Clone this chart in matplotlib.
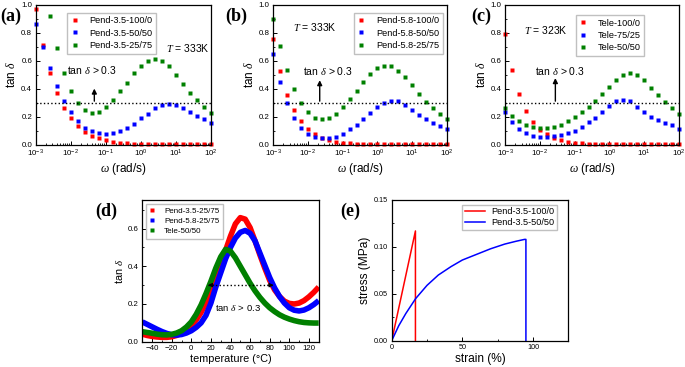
import numpy as np
import matplotlib

matplotlib.use("Agg")
from matplotlib import pyplot as plt
from matplotlib.ticker import AutoMinorLocator, FormatStrFormatter, MultipleLocator

plt.rcParams["font.family"] = ["Liberation Sans", "DejaVu Sans"]
plt.rcParams["mathtext.fontset"] = "custom"
plt.rcParams["mathtext.rm"] = "Liberation Sans"
plt.rcParams["mathtext.it"] = "Liberation Serif:italic"
plt.rcParams["xtick.direction"] = "in"
plt.rcParams["ytick.direction"] = "in"
plt.rcParams["axes.linewidth"] = 0.9

RED = "#ff0000"
BLUE = "#0000ff"
GREEN = "#008000"

# frequency sweep, rad/s
freq = [0.001, 0.00158, 0.00251, 0.00398, 0.00631, 0.01, 0.0158, 0.0251, 0.0398, 0.0631,
        0.1, 0.158, 0.251, 0.398, 0.631, 1, 1.58, 2.51, 3.98, 6.31,
        10, 15.8, 25.1, 39.8, 63.1, 100]

# (a) T = 333K
a_labels = ["Pend-3.5-100/0", "Pend-3.5-50/50", "Pend-3.5-25/75"]
a_red = [0.97, 0.71, 0.51, 0.37, 0.26, 0.186, 0.129, 0.088, 0.062, 0.043, 0.029, 0.018, 0.012,
         0.009, 0.007, 0.005, 0.004, 0.004, 0.003, 0.003, 0.003, 0.003, 0.003, 0.003, 0.003, 0.003]
a_blue = [0.86, 0.70, 0.55, 0.42, 0.31, 0.23, 0.17, 0.12, 0.095, 0.08, 0.075, 0.08, 0.095,
          0.12, 0.15, 0.19, 0.22, 0.26, 0.285, 0.29, 0.285, 0.26, 0.23, 0.205, 0.18, 0.155]
a_green = [np.nan, np.nan, 0.92, 0.69, 0.515, 0.385, 0.295, 0.245, 0.225, 0.235, 0.265, 0.315, 0.38,
           0.44, 0.51, 0.565, 0.60, 0.615, 0.60, 0.56, 0.50, 0.435, 0.37, 0.315, 0.27, 0.225]

# (b) T = 333K
b_labels = ["Pend-5.8-100/0", "Pend-5.8-50/50", "Pend-5.8-25/75"]
b_red = [0.752, 0.524, 0.357, 0.245, 0.167, 0.112, 0.074, 0.05, 0.031, 0.021, 0.012, 0.008, 0.006,
         0.005, 0.005, 0.004, 0.004, 0.004, 0.004, 0.004, 0.004, 0.004, 0.004, 0.004, 0.004, 0.004]
b_blue = [0.65, 0.448, 0.295, 0.186, 0.117, 0.076, 0.057, 0.048, 0.048, 0.055, 0.076, 0.11, 0.14,
          0.18, 0.226, 0.267, 0.30, 0.314, 0.31, 0.28, 0.248, 0.21, 0.179, 0.157, 0.133, 0.112]
b_green = [0.895, 0.705, 0.533, 0.395, 0.295, 0.229, 0.19, 0.181, 0.19, 0.221, 0.269, 0.324, 0.386,
           0.45, 0.505, 0.545, 0.564, 0.56, 0.529, 0.481, 0.424, 0.36, 0.305, 0.26, 0.221, 0.181]

# (c) T = 323K
c_labels = ["Tele-100/0", "Tele-75/25", "Tele-50/50"]
c_red = [0.79, 0.53, 0.358, 0.243, 0.159, 0.103, 0.072, 0.043, 0.031, 0.019, 0.01, 0.008, 0.007,
         0.006, 0.006, 0.006, 0.006, 0.006, 0.006, 0.006, 0.006, 0.006, 0.006, 0.006, 0.006, 0.006]
c_blue = [0.235, 0.159, 0.11, 0.079, 0.062, 0.055, 0.055, 0.058, 0.067, 0.079, 0.099, 0.125, 0.159,
          0.192, 0.235, 0.276, 0.308, 0.32, 0.308, 0.269, 0.233, 0.2, 0.175, 0.154, 0.139, 0.113]
c_green = [0.264, 0.207, 0.168, 0.14, 0.125, 0.12, 0.12, 0.125, 0.14, 0.165, 0.195, 0.23, 0.265,
           0.313, 0.36, 0.41, 0.46, 0.495, 0.51, 0.50, 0.46, 0.405, 0.355, 0.305, 0.26, 0.215]

# (d) temperature sweep
temperature = [-50, -45, -40, -35, -30, -25, -20, -15, -10, -5, 0, 5, 10, 15, 20, 25, 30, 35, 40,
               45, 50, 55, 60, 65, 70, 75, 80, 85, 90, 95, 100, 105, 110, 115, 120, 125, 130]
d_labels = ["Pend-3.5-25/75", "Pend-5.8-25/75", "Tele-50/50"]
d_red = [0.040, 0.033, 0.028, 0.025, 0.023, 0.023, 0.026, 0.033, 0.045, 0.062, 0.085, 0.115, 0.155,
         0.205, 0.262, 0.33, 0.405, 0.485, 0.56, 0.625, 0.658, 0.65, 0.605, 0.535, 0.46, 0.39, 0.325,
         0.275, 0.24, 0.215, 0.203, 0.200, 0.205, 0.218, 0.238, 0.262, 0.29]
d_blue = [0.105, 0.092, 0.079, 0.066, 0.054, 0.044, 0.037, 0.035, 0.038, 0.046, 0.058, 0.076, 0.10,
          0.14, 0.205, 0.29, 0.365, 0.44, 0.50, 0.55, 0.58, 0.59, 0.575, 0.535, 0.47, 0.405, 0.34,
          0.285, 0.24, 0.205, 0.18, 0.167, 0.163, 0.168, 0.18, 0.197, 0.218]
d_green = [0.053, 0.049, 0.045, 0.040, 0.037, 0.036, 0.039, 0.046, 0.058, 0.078, 0.105, 0.145, 0.195,
           0.255, 0.32, 0.39, 0.45, 0.49, 0.48, 0.445, 0.40, 0.355, 0.31, 0.27, 0.235, 0.205, 0.18,
           0.16, 0.143, 0.13, 0.12, 0.112, 0.106, 0.102, 0.10, 0.099, 0.099]

# (e) tensile test
e_labels = ["Pend-3.5-100/0", "Pend-3.5-50/50"]
e_red_strain = [0, 16.8, 16.8]
e_red_stress = [0, 0.117, 0]
e_blue_strain = [0, 5, 10, 17, 25, 33, 42, 50, 60, 70, 80, 88, 94, 95, 95]
e_blue_stress = [0, 0.016, 0.029, 0.045, 0.059, 0.070, 0.079, 0.086, 0.092, 0.098, 0.103, 0.106,
                 0.108, 0.108, 0]

W, H = 685, 367


def rect(left, top, right, bottom):
    return [left / W, 1 - bottom / H, (right - left) / W, (bottom - top) / H]


def style_ticks(ax, labelsize=5.7):
    ax.tick_params(which="major", length=3, width=0.7, labelsize=labelsize, pad=2.5)
    ax.tick_params(which="minor", length=1.6, width=0.6)


def freq_panel(ax, red, blue, green, labels, temp_text, temp_xy, arrow_x, arrow_top, text_xy, leg_anchor):
    for vals, color, label in zip((red, blue, green), (RED, BLUE, GREEN), labels):
        ax.plot(freq, vals, "s", ms=3.4, color=color, mec="none", label=label, clip_on=False)
    ax.set_xscale("log")
    ax.set_xlim(1e-3, 1e2)
    ax.set_ylim(0, 1.0)
    ax.yaxis.set_major_locator(MultipleLocator(0.2))
    ax.yaxis.set_minor_locator(MultipleLocator(0.1))
    style_ticks(ax)
    ax.axhline(0.3, color="k", ls=":", lw=1)
    ax.annotate("", xy=(arrow_x, arrow_top), xytext=(arrow_x, 0.31),
                arrowprops=dict(arrowstyle="-|>", color="k", lw=1, mutation_scale=7, shrinkA=0, shrinkB=0))
    ax.text(text_xy[0], text_xy[1], r"tan $\delta$ > 0.3", fontsize=7.5, va="center")
    ax.text(temp_xy[0], temp_xy[1], temp_text, fontsize=7.5, va="center")
    ax.set_xlabel(r"$\omega$ (rad/s)", fontsize=8.5, labelpad=1)
    ax.set_ylabel(r"tan $\delta$", fontsize=8.5, labelpad=2)
    ax.legend(loc="upper left", bbox_to_anchor=leg_anchor, fontsize=6.6, handlelength=0.8,
              handletextpad=1.2, borderpad=0.4, labelspacing=0.35, fancybox=False,
              edgecolor="#c0c0c0", framealpha=1, markerscale=1.0)


fig = plt.figure(figsize=(6.85, 3.67), dpi=100)

ax_a = fig.add_axes(rect(35.7, 4.7, 211, 144.5))
freq_panel(ax_a, a_red, a_blue, a_green, a_labels, r"$T$ = 333K", (5.3, 0.687), 0.047, 0.40,
           (7.6e-3, 0.53), (0.155, 0.975))

ax_b = fig.add_axes(rect(273, 4.7, 447, 144.5))
freq_panel(ax_b, b_red, b_blue, b_green, b_labels, r"$T$ = 333K", (3.7e-3, 0.84), 0.022, 0.46,
           (7.2e-3, 0.524), (0.44, 0.975))

ax_c = fig.add_axes(rect(505, 4.7, 679, 144.5))
freq_panel(ax_c, c_red, c_blue, c_green, c_labels, r"$T$ = 323K", (3.6e-3, 0.817), 0.028, 0.475,
           (7.5e-3, 0.529), (0.38, 0.96))

# (d)
ax_d = fig.add_axes(rect(142.3, 200.3, 318.7, 341.7))
for vals, color, label in zip((d_red, d_blue, d_green), (RED, BLUE, GREEN), d_labels):
    ax_d.plot(temperature, vals, "-", lw=4, color=color, label=label, solid_capstyle="butt")
ax_d.set_xlim(-50, 130)
ax_d.set_ylim(0, 0.75)
ax_d.xaxis.set_major_locator(MultipleLocator(20))
ax_d.xaxis.set_minor_locator(MultipleLocator(10))
ax_d.yaxis.set_major_locator(MultipleLocator(0.2))
ax_d.yaxis.set_minor_locator(MultipleLocator(0.1))
style_ticks(ax_d)
ax_d.plot([17, 84], [0.3, 0.3], color="k", ls=":", lw=1)
for tip, tail in ((17, 23), (84, 78)):
    ax_d.annotate("", xy=(tip, 0.3), xytext=(tail, 0.3),
                  arrowprops=dict(arrowstyle="-|>", color="k", lw=0.8, mutation_scale=6, shrinkA=0, shrinkB=0))
ax_d.text(24, 0.178, r"tan $\delta$ > 0.3", fontsize=6.8, va="center")
ax_d.set_xlabel("temperature (°C)", fontsize=7.8, labelpad=1)
ax_d.set_ylabel(r"tan $\delta$", fontsize=7.8, labelpad=2)
leg_d = ax_d.legend(loc="upper left", fontsize=5.8, handlelength=0.6, handletextpad=1.2, borderpad=0.4,
                    labelspacing=0.3, fancybox=False, edgecolor="#c0c0c0", framealpha=1)
for line in leg_d.get_lines():
    line.set_linewidth(0)
    line.set_marker("s")
    line.set_markersize(3.2)
    line.set_markeredgecolor("none")

# (e)
ax_e = fig.add_axes(rect(391.7, 200, 568.3, 340.7))
ax_e.plot(e_red_strain, e_red_stress, "-", color=RED, lw=1.1, label=e_labels[0])
ax_e.plot(e_blue_strain, e_blue_stress, "-", color=BLUE, lw=1.1, label=e_labels[1])
ax_e.set_xlim(0, 125)
ax_e.set_ylim(0, 0.15)
ax_e.xaxis.set_major_locator(MultipleLocator(50))
ax_e.xaxis.set_minor_locator(MultipleLocator(25))
ax_e.yaxis.set_major_locator(MultipleLocator(0.05))
ax_e.yaxis.set_minor_locator(AutoMinorLocator(2))
ax_e.yaxis.set_major_formatter(FormatStrFormatter("%.2f"))
style_ticks(ax_e, labelsize=5.2)
ax_e.set_xlabel("strain (%)", fontsize=8.6, labelpad=1)
ax_e.set_ylabel("stress (MPa)", fontsize=8.6, labelpad=2)
ax_e.legend(loc="upper right", bbox_to_anchor=(0.96, 1.0), fontsize=6.6, handlelength=2.2,
            handletextpad=0.6, borderpad=0.3, labelspacing=0.2, fancybox=False,
            edgecolor="#c0c0c0", framealpha=1)

# panel letters
for label, x, top in (("(a)", 0, 8), ("(b)", 225, 8), ("(c)", 471, 8), ("(d)", 95, 203), ("(e)", 340, 203)):
    fig.text(x / W, 1 - top / H, label, fontsize=13, fontweight="bold", family="Liberation Serif",
             va="top", ha="left")

fig.savefig("out.png", dpi=100)
